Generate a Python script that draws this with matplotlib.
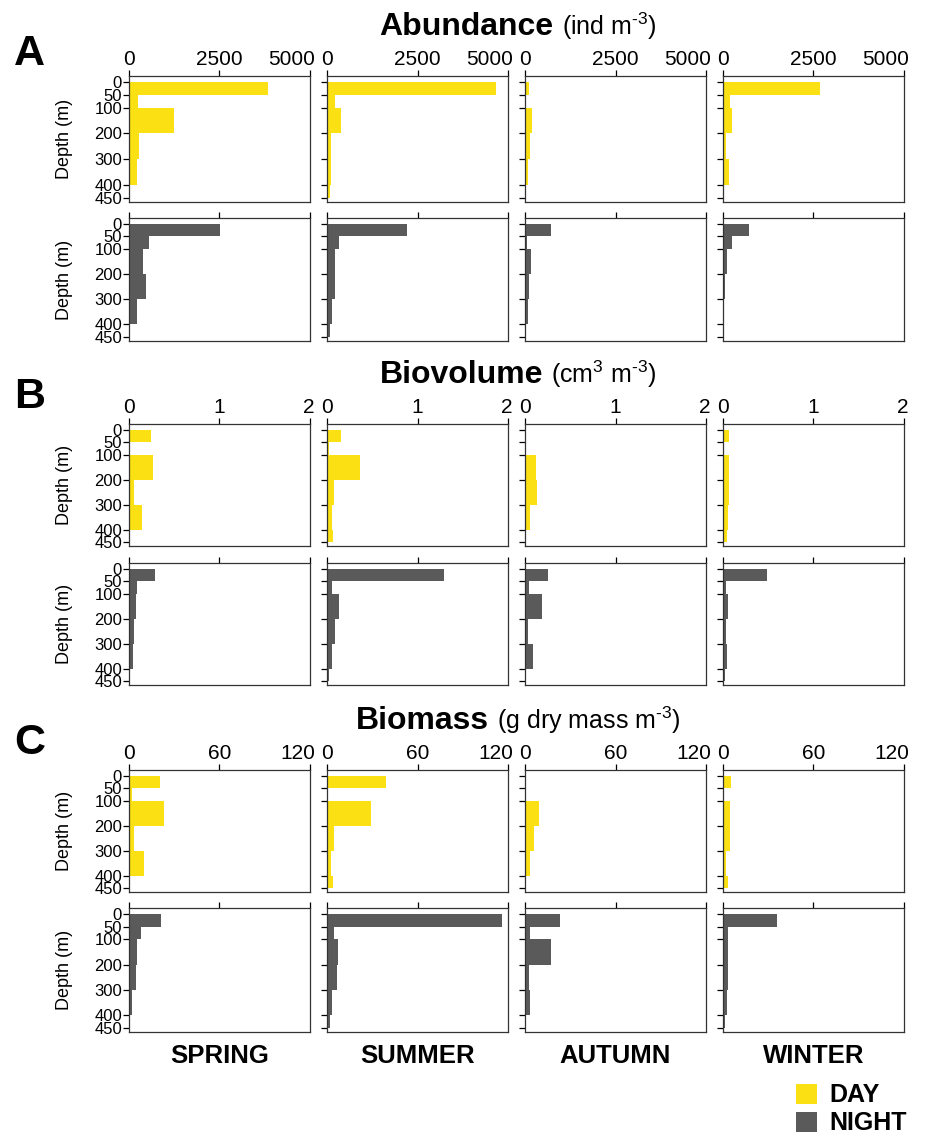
import matplotlib
matplotlib.use("Agg")
import matplotlib.pyplot as plt
from matplotlib.patches import Rectangle
from matplotlib.transforms import ScaledTranslation

plt.rcParams["font.family"] = ["Liberation Sans", "DejaVu Sans"]
plt.rcParams["mathtext.fontset"] = "custom"
plt.rcParams["mathtext.rm"] = "Liberation Sans"
plt.rcParams["mathtext.it"] = "Liberation Sans:italic"
plt.rcParams["mathtext.bf"] = "Liberation Sans:bold"

# ---------------------------------------------------------------
# Data: depth layers (m) and values per season (rows) x layer (cols)
# ---------------------------------------------------------------
layer_top = [0, 50, 100, 200, 300, 400]
layer_bottom = [50, 100, 200, 300, 400, 450]
depth_ticks = [0, 50, 100, 200, 300, 400, 450]
seasons = ["SPRING", "SUMMER", "AUTUMN", "WINTER"]

# Abundance (ind m-3)
abundance_day = [
    [3850, 240, 1230, 270, 230, 0],
    [4680, 230, 400, 120, 120, 90],
    [100, 15, 200, 150, 90, 0],
    [2680, 185, 250, 75, 165, 20],
]
abundance_night = [
    [2520, 540, 400, 480, 230, 0],
    [2200, 340, 230, 210, 150, 90],
    [730, 55, 165, 110, 90, 0],
    [720, 240, 100, 65, 10, 0],
]

# Biovolume (cm3 m-3)
biovolume_day = [
    [0.24, 0.01, 0.27, 0.05, 0.14, 0],
    [0.15, 0.02, 0.37, 0.08, 0.05, 0.07],
    [0.01, 0.01, 0.125, 0.135, 0.06, 0],
    [0.065, 0.01, 0.065, 0.065, 0.055, 0.04],
]
biovolume_night = [
    [0.29, 0.09, 0.075, 0.06, 0.04, 0],
    [1.29, 0.055, 0.135, 0.085, 0.055, 0.02],
    [0.25, 0.04, 0.185, 0.03, 0.085, 0],
    [0.49, 0.035, 0.055, 0.03, 0.04, 0.025],
]

# Biomass (g dry mass m-3)
biomass_day = [
    [20.5, 2.0, 23.5, 3.3, 10.0, 0],
    [39.0, 0.8, 29.0, 4.5, 2.4, 3.7],
    [0.4, 0.4, 9.4, 6.0, 3.4, 0],
    [5.2, 0.5, 4.5, 4.5, 1.8, 3.1],
]
biomass_night = [
    [21.0, 8.0, 5.0, 4.5, 2.0, 0],
    [116.0, 4.5, 7.6, 6.3, 3.1, 1.8],
    [23.3, 3.4, 17.3, 2.9, 3.4, 0],
    [35.5, 3.0, 3.0, 3.0, 2.5, 1.0],
]

sections = [
    ("A", "Abundance", r"(ind m$^{\text{-3}}$)", abundance_day, abundance_night,
     [0, 2500, 5000]),
    ("B", "Biovolume", r"(cm$^{\text{3}}$ m$^{\text{-3}}$)", biovolume_day,
     biovolume_night, [0, 1, 2]),
    ("C", "Biomass", r"(g dry mass m$^{\text{-3}}$)", biomass_day,
     biomass_night, [0, 60, 120]),
]

DAY_COLOR = "#FBE014"
NIGHT_COLOR = "#5A5A5A"
SPINE_COLOR = "#333333"

# ---------------------------------------------------------------
# Layout (pixels of a 929 x 1133 canvas)
# ---------------------------------------------------------------
W, H = 929, 1133
col_left = [129, 327, 525, 723]
col_width = 181
row_boxes = [(76, 202, 218, 341), (424, 546, 563, 685), (770, 892, 908, 1032)]
title_base = [35, 383, 729]
letter_base = [65, 408, 754]


def fx(x):
    return x / W


def fy(y):
    return 1 - y / H


fig = plt.figure(figsize=(W / 100, H / 100), dpi=100)
thickness = [b - t for t, b in zip(layer_top, layer_bottom)]


def draw_panel(ax, values, color, xticks, show_xlabels, show_ylabels):
    ax.barh(layer_top, values, height=thickness, align="edge",
            color=color, edgecolor="none")
    ax.set_xlim(xticks[0], xticks[-1])
    ax.set_ylim(466, -23)
    ax.xaxis.tick_top()
    ax.set_xticks(xticks)
    ax.set_xticklabels([f"{t:g}" for t in xticks])
    ax.set_yticks(depth_ticks)
    ax.set_yticklabels([str(d) for d in depth_ticks])
    ax.tick_params(axis="x", which="major", direction="out", length=4.5,
                   width=0.9, pad=0.5, labelsize=15, top=True, bottom=False,
                   labeltop=show_xlabels, labelbottom=False)
    ax.tick_params(axis="y", direction="out", length=4.5, width=0.9,
                   pad=0.5, labelsize=12, labelleft=show_ylabels)
    for sp in ax.spines.values():
        sp.set_color(SPINE_COLOR)
        sp.set_linewidth(0.9)
    if show_xlabels:
        # last label sits against the right edge, as in the original
        lbl = ax.xaxis.get_major_ticks()[-1].label2
        lbl.set_horizontalalignment("right")
        lbl.set_transform(lbl.get_transform() +
                          ScaledTranslation(5 / 100, 0, fig.dpi_scale_trans))
    if show_ylabels:
        ax.set_ylabel("Depth (m)", fontsize=13)
        ax.yaxis.set_label_coords(-0.31, 0.5)


for s, (letter, name, unit, day_vals, night_vals, xticks) in enumerate(sections):
    d_top, d_bot, n_top, n_bot = row_boxes[s]
    for c in range(4):
        ax_d = fig.add_axes([fx(col_left[c]), fy(d_bot),
                             col_width / W, (d_bot - d_top) / H])
        draw_panel(ax_d, day_vals[c], DAY_COLOR, xticks, True, c == 0)
        ax_n = fig.add_axes([fx(col_left[c]), fy(n_bot),
                             col_width / W, (n_bot - n_top) / H])
        draw_panel(ax_n, night_vals[c], NIGHT_COLOR, xticks, False, c == 0)

    # section letter
    fig.text(fx(14), fy(letter_base[s]), letter, fontsize=31,
             fontweight="bold", ha="left", va="baseline")

    # title: bold name followed by unit, centred over the grid
    renderer = fig.canvas.get_renderer()
    t1 = fig.text(0, fy(title_base[s]), name, fontsize=23,
                  fontweight="bold", ha="left", va="baseline")
    t2 = fig.text(0, fy(title_base[s]), unit, fontsize=18,
                  ha="left", va="baseline")
    w1 = t1.get_window_extent(renderer).width
    w2 = t2.get_window_extent(renderer).width
    gap = 8
    start = 518 - (w1 + gap + w2) / 2
    t1.set_x(fx(start))
    t2.set_x(fx(start + w1 + gap))

# season labels
for c, season in enumerate(seasons):
    fig.text(fx(col_left[c] + col_width / 2), fy(1063), season, fontsize=18.5,
             fontweight="bold", ha="center", va="baseline")

# legend
for y0, label, color in [(1084, "DAY", DAY_COLOR), (1112, "NIGHT", NIGHT_COLOR)]:
    fig.add_artist(Rectangle((fx(796), fy(y0 + 20)), 21 / W, 20 / H,
                             transform=fig.transFigure, facecolor=color,
                             edgecolor="none"))
    fig.text(fx(829), fy(y0 + 18), label, fontsize=18, fontweight="bold",
             ha="left", va="baseline")

fig.savefig("out.png", dpi=100)
